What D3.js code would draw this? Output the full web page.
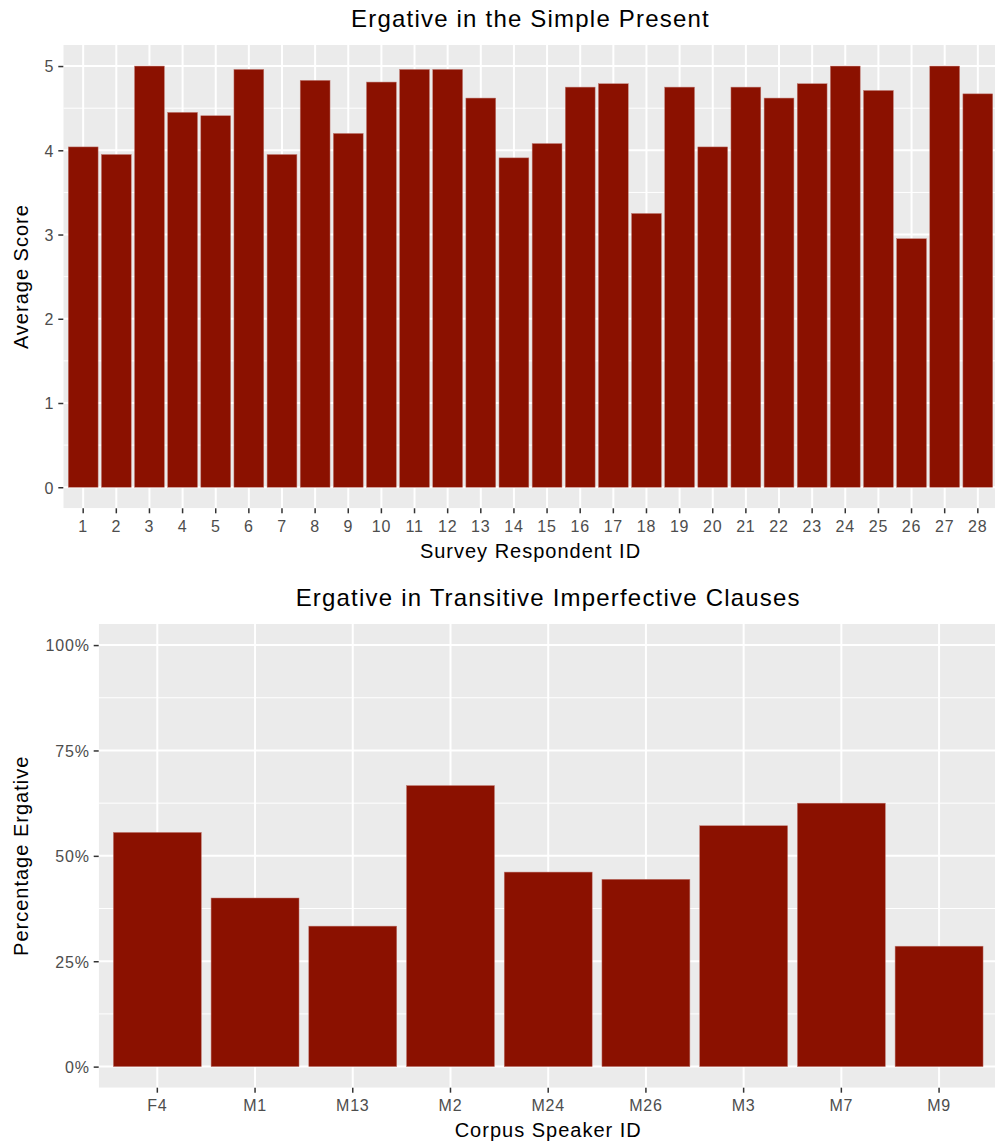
<!DOCTYPE html>
<html>
<head>
<meta charset="utf-8">
<script src="https://cdn.jsdelivr.net/npm/d3@7"></script>
<style>
  html, body { margin: 0; padding: 0; background: #fff; }
  svg { display: block; }
  text { font-family: "Liberation Sans", Arial, Helvetica, sans-serif; letter-spacing: 0.05em; }
</style>
</head>
<body>
<svg id="chart" width="995" height="1146"></svg>
<script>
// ---- Data ----
const respondentIds = ["1","2","3","4","5","6","7","8","9","10","11","12","13","14","15","16","17","18","19","20","21","22","23","24","25","26","27","28"];
const averageScores = [4.04, 3.95, 5.00, 4.45, 4.41, 4.96, 3.95, 4.83, 4.20, 4.81, 4.96, 4.96, 4.62, 3.91, 4.08, 4.75, 4.79, 3.25, 4.75, 4.04, 4.75, 4.62, 4.79, 5.00, 4.71, 2.95, 5.00, 4.67];
const scoreTicks = [0, 1, 2, 3, 4, 5];

const speakerIds = ["F4","M1","M13","M2","M24","M26","M3","M7","M9"];
const percentErgative = [0.5556, 0.40, 0.3333, 0.6667, 0.4615, 0.4444, 0.5714, 0.625, 0.2857];
const percentTicks = [0, 0.25, 0.5, 0.75, 1.0];
const percentMinor = [0.125, 0.375, 0.625, 0.875];
const scoreMinor = [0.5, 1.5, 2.5, 3.5, 4.5];

const titleTop = "Ergative in the Simple Present";
const titleBottom = "Ergative in Transitive Imperfective Clauses";

// ---- Style ----
const BAR = "#8B1100";
const PANEL = "#EBEBEB";
const TICKTXT = "#4D4D4D";
const TICKLINE = "#333333";

const svg = d3.select("#chart");

function drawPanel(cfg) {
  const g = svg.append("g");
  const x = d3.scaleBand().domain(cfg.cats).range([cfg.left, cfg.right])
    .paddingInner(0.1).paddingOuter(0.15);
  const y = d3.scaleLinear().domain(cfg.ydomain).range([cfg.bottom, cfg.top]);

  const clipId = "clip" + cfg.id;
  svg.append("clipPath").attr("id", clipId).append("rect")
    .attr("x", cfg.left).attr("y", cfg.top)
    .attr("width", cfg.right - cfg.left).attr("height", cfg.bottom - cfg.top);

  const p = g.append("g").attr("clip-path", `url(#${clipId})`);
  p.append("rect").attr("x", cfg.left).attr("y", cfg.top)
    .attr("width", cfg.right - cfg.left).attr("height", cfg.bottom - cfg.top)
    .attr("fill", PANEL);

  // minor y grid
  p.selectAll(".minor").data(cfg.minor).join("line")
    .attr("x1", cfg.left).attr("x2", cfg.right)
    .attr("y1", d => y(d)).attr("y2", d => y(d))
    .attr("stroke", "#fff").attr("stroke-width", 1);
  // major y grid
  p.selectAll(".majory").data(cfg.ticks).join("line")
    .attr("x1", cfg.left).attr("x2", cfg.right)
    .attr("y1", d => y(d)).attr("y2", d => y(d))
    .attr("stroke", "#fff").attr("stroke-width", 2);
  // major x grid
  p.selectAll(".majorx").data(cfg.cats).join("line")
    .attr("x1", d => x(d) + x.bandwidth() / 2).attr("x2", d => x(d) + x.bandwidth() / 2)
    .attr("y1", cfg.top).attr("y2", cfg.bottom)
    .attr("stroke", "#fff").attr("stroke-width", 2);

  // bars
  p.selectAll(".bar").data(cfg.values).join("rect")
    .attr("x", (d, i) => x(cfg.cats[i]))
    .attr("width", x.bandwidth())
    .attr("y", d => y(d))
    .attr("height", d => y(0) - y(d))
    .attr("fill", BAR)
    .attr("stroke", "#c07a72").attr("stroke-width", 0.5);

  // y axis
  const ya = d3.axisLeft(y).tickValues(cfg.ticks).tickSize(5).tickPadding(4).tickFormat(cfg.fmt);
  const yg = g.append("g").attr("transform", `translate(${cfg.left},0)`).call(ya);
  yg.select(".domain").remove();
  yg.selectAll(".tick line").attr("stroke", TICKLINE).attr("stroke-width", 1.5);
  yg.selectAll(".tick text").attr("fill", TICKTXT).style("font-size", "16px").attr("dy", "0.36em");

  // x axis
  const xa = d3.axisBottom(x).tickSize(5).tickPadding(0);
  const xg = g.append("g").attr("transform", `translate(0,${cfg.bottom})`).call(xa);
  xg.select(".domain").remove();
  xg.selectAll(".tick line").attr("stroke", TICKLINE).attr("stroke-width", 1.5);
  xg.selectAll(".tick text").attr("fill", TICKTXT).style("font-size", "16px")
    .attr("y", cfg.xLabelBase - cfg.bottom).attr("dy", 0);

  const cx = (cfg.left + cfg.right) / 2;
  // title
  g.append("text").attr("x", cx).attr("y", cfg.titleBase).attr("text-anchor", "middle")
    .style("font-size", "24px").attr("fill", "#000").text(cfg.title);
  // x title
  g.append("text").attr("x", cx).attr("y", cfg.xTitleBase).attr("text-anchor", "middle")
    .style("font-size", "20px").attr("fill", "#000").text(cfg.xTitle);
  // y title
  g.append("text")
    .attr("transform", `translate(28,${(cfg.top + cfg.bottom) / 2}) rotate(-90)`)
    .attr("text-anchor", "middle")
    .style("font-size", "20px").attr("fill", "#000").text(cfg.yTitle);
}

drawPanel({
  id: "top",
  cats: respondentIds, values: averageScores,
  left: 63.3, right: 997.7, top: 45, bottom: 508.3,
  ydomain: [-0.25, 5.25], ticks: scoreTicks, minor: scoreMinor,
  fmt: d3.format("d"),
  title: titleTop, titleBase: 26.7,
  xTitle: "Survey Respondent ID", xTitleBase: 557.7, xLabelBase: 531.7,
  yTitle: "Average Score"
});

drawPanel({
  id: "bottom",
  cats: speakerIds, values: percentErgative,
  left: 98.7, right: 997.7, top: 624, bottom: 1087.7,
  ydomain: [-0.05, 1.05], ticks: percentTicks, minor: percentMinor,
  fmt: d3.format(".0%"),
  title: titleBottom, titleBase: 605.7,
  xTitle: "Corpus Speaker ID", xTitleBase: 1137.3, xLabelBase: 1111,
  yTitle: "Percentage Ergative"
});
</script>
</body>
</html>
